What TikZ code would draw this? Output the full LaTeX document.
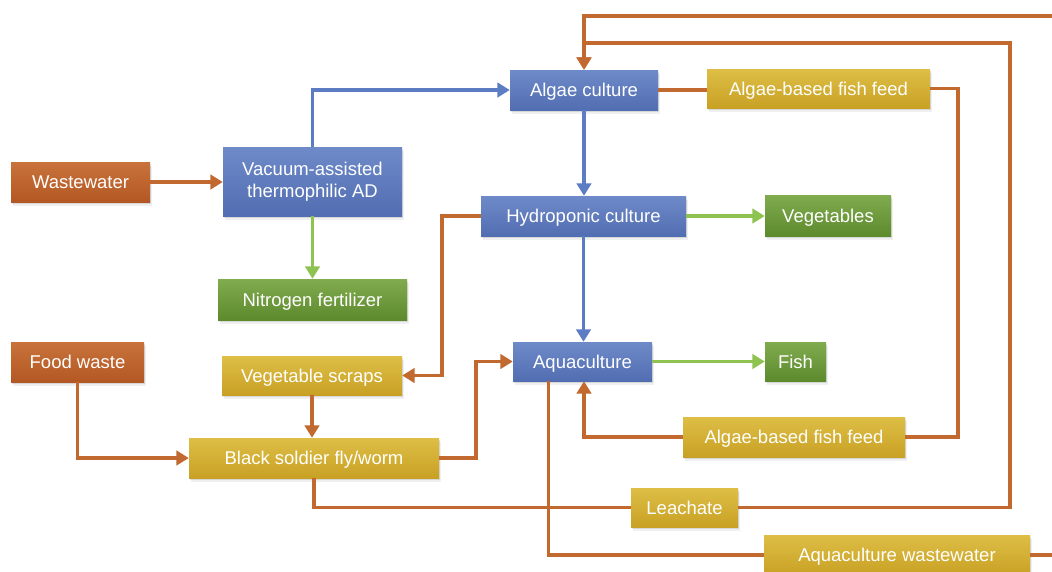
\documentclass[tikz,border=0pt]{standalone}
\usepackage{fontspec}
\setmainfont{Liberation Sans}
\usetikzlibrary{arrows.meta,shadows}

% box fills (top / bottom of the vertical gradient)
\definecolor{orTop}{HTML}{C9723B}
\definecolor{orBot}{HTML}{B35824}
\definecolor{blTop}{HTML}{6E8AC8}
\definecolor{blBot}{HTML}{526EB2}
\definecolor{grTop}{HTML}{80AB4F}
\definecolor{grBot}{HTML}{5E8A2E}
\definecolor{gdTop}{HTML}{DEBE46}
\definecolor{gdBot}{HTML}{C8A124}
% connector colours
\definecolor{lnOr}{HTML}{C1692F}
\definecolor{lnBl}{HTML}{5C7CC4}
\definecolor{lnGr}{HTML}{8EC351}

\tikzset{
  box/.style={rectangle, inner sep=0pt, align=center, text=white,
    font=\fontsize{18.5}{22.5}\selectfont,
    text height=13.3pt, text depth=0pt,
    drop shadow={shadow xshift=2pt, shadow yshift=-3.5pt, opacity=0.12},
    drop shadow={shadow xshift=1pt, shadow yshift=-2pt, opacity=0.22}},
  orbox/.style={box, top color=orTop, bottom color=orBot},
  blbox/.style={box, top color=blTop, bottom color=blBot},
  grbox/.style={box, top color=grTop, bottom color=grBot},
  gdbox/.style={box, top color=gdTop, bottom color=gdBot},
  wire/.style={line width=3.9pt, line join=miter},
  tip/.style={-{Triangle[length=12.5pt,width=14.5pt]}},
  oline/.style={wire, draw=lnOr},
  oarrow/.style={oline, tip},
  barrow/.style={wire, draw=lnBl, tip},
  garrow/.style={wire, draw=lnGr, tip},
}

\begin{document}
\begin{tikzpicture}[x=1pt,y=-1pt]
\useasboundingbox (0,0) rectangle (1052,571);
\clip (0,0) rectangle (1052,571);

% process boxes
\node[orbox, minimum width=139pt, minimum height=40pt] (ww)   at (80.5,182)   {Wastewater};
\node[blbox, minimum width=179pt, minimum height=69pt, text height=, text depth=] (ad) at (312.5,181.5) {Vacuum-assisted\\thermophilic AD};
\node[grbox, minimum width=189pt, minimum height=41pt] (nf)   at (312.5,299.5) {Nitrogen fertilizer};
\node[orbox, minimum width=133pt, minimum height=40pt] (fw)   at (77.5,362)   {Food waste};
\node[gdbox, minimum width=180pt, minimum height=39pt] (vs)   at (312,375.5)  {Vegetable scraps};
\node[gdbox, minimum width=250pt, minimum height=40pt] (bsf)  at (314,458)    {Black soldier fly/worm};
\node[blbox, minimum width=148pt, minimum height=40pt] (ac)   at (584,90)     {Algae culture};
\node[gdbox, minimum width=223pt, minimum height=39pt] (aff1) at (818.5,88.5) {Algae-based fish feed};
\node[blbox, minimum width=205pt, minimum height=40pt] (hc)   at (583.5,216)  {Hydroponic culture};
\node[grbox, minimum width=126pt, minimum height=41pt] (veg)  at (828,215.5)  {Vegetables};
\node[blbox, minimum width=139pt, minimum height=39pt] (aq)   at (582.5,361.5) {Aquaculture};
\node[grbox, minimum width=61pt,  minimum height=39pt] (fish) at (795.5,361.5) {Fish};
\node[gdbox, minimum width=222pt, minimum height=40pt] (aff2) at (794,437)    {Algae-based fish feed};
\node[gdbox, minimum width=107pt, minimum height=39pt] (lea)  at (684.5,507.5) {Leachate};
\node[gdbox, minimum width=266pt, minimum height=40pt] (aw)   at (897,555)    {Aquaculture wastewater};

% bends of the routed connectors
\coordinate (kScraps) at (442,375.5);
\coordinate (kFly)    at (476,361.5);
\coordinate (kLeach)  at (1010,43);
\coordinate (kWaste)  at (1075,16);
\coordinate (kFeed)   at (958,437);

% blue: main cascade
\draw[barrow] (ad.north) |- (ac.west);
\draw[barrow] (ac.south) -- (ac.south |- hc.north);
\draw[barrow] (hc.south) -- (hc.south |- aq.north);

% green: products
\draw[garrow] (ad.south) -- (nf.north);
\draw[garrow] (hc.east) -- (hc.east -| veg.west);
\draw[garrow] (aq.east) -- (aq.east -| fish.west);

% orange: waste and feed streams
\draw[oarrow] (ww.east) -- (ww.east -| ad.west);
\draw[oarrow] (hc.west) -| (kScraps) -- (vs.east);
\draw[oarrow] (vs.south) -- (vs.south |- bsf.north);
\draw[oarrow] (fw.south) |- (bsf.west);
\draw[oarrow] (bsf.east) -| (kFly) -- (aq.west);
\draw[oline]  (bsf.south) |- (lea.west);
\draw[oarrow] (lea.east) -| (kLeach) -| (ac.north);
\draw[oline]  ([xshift=-34pt]aq.south) |- (aw.west);
\draw[oarrow] (aw.east) -| (kWaste) -| (ac.north);
\draw[oline]  (ac.east) -- (ac.east -| aff1.west);
\draw[oline]  (aff1.east) -| (kFeed) -- (aff2.east);
\draw[oarrow] (aff2.west) -| ([xshift=1.5pt]aq.south);
\end{tikzpicture}
\end{document}
